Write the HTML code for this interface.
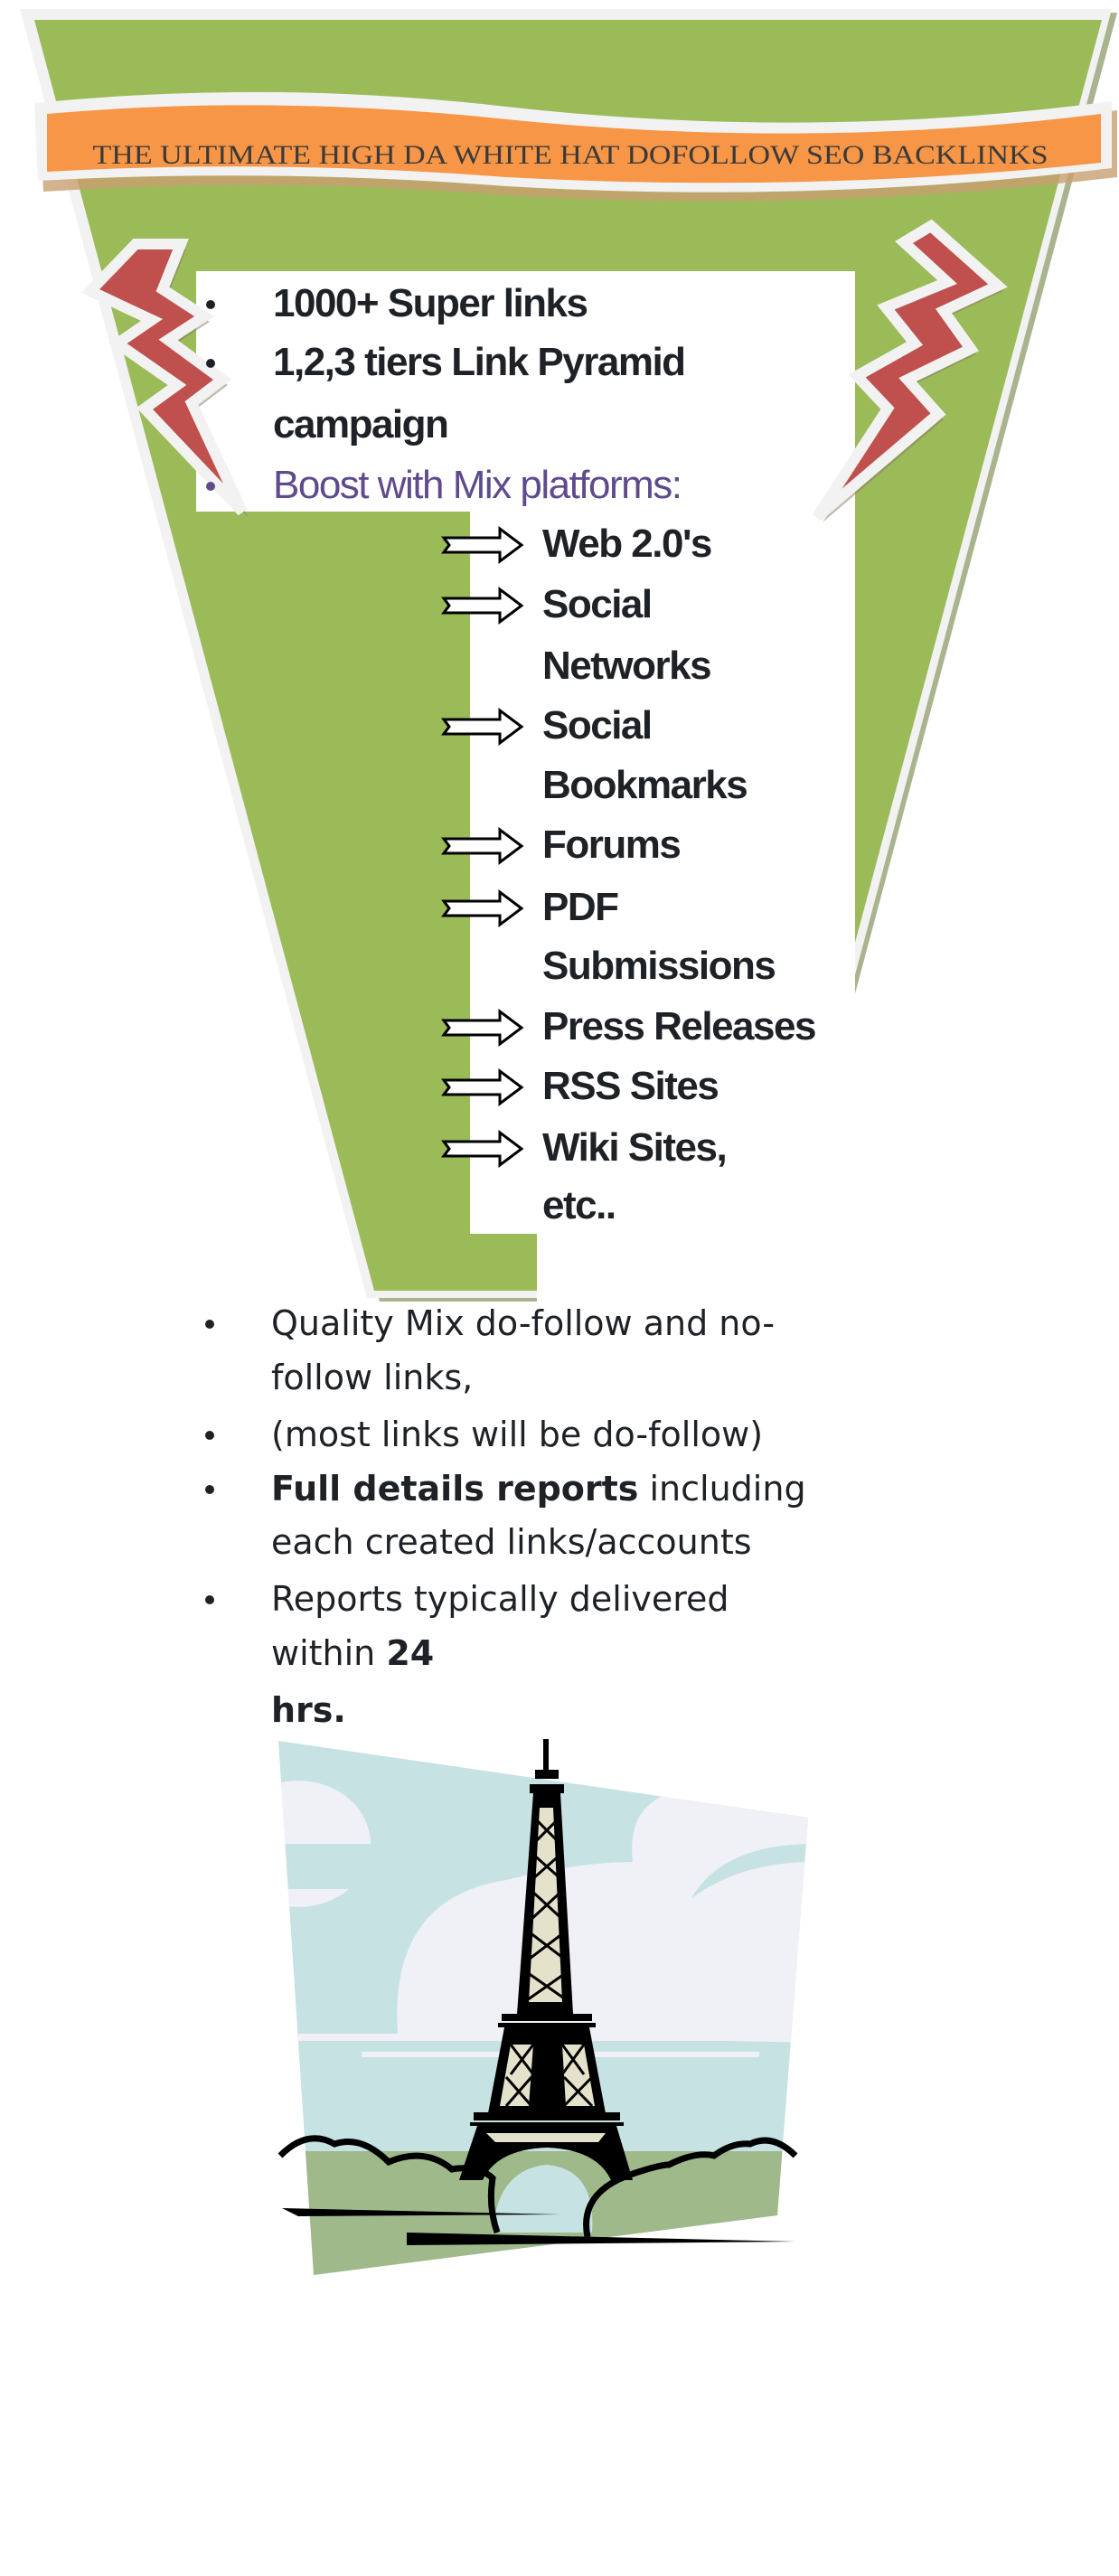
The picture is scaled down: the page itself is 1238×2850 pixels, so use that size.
<!DOCTYPE html>
<html><head><meta charset="utf-8"><style>
html,body{margin:0;padding:0;background:#fff;}
body{width:1238px;height:2850px;position:relative;overflow:hidden;}
svg{position:absolute;left:0;top:0;}
.b{font-family:"Liberation Sans",sans-serif;font-weight:bold;fill:#1e2227;font-size:44px;letter-spacing:-1.5px;}
.n{font-family:"DejaVu Sans","Liberation Sans",sans-serif;fill:#1e2227;font-size:38px;}
</style></head><body>
<svg width="1238" height="2850" viewBox="0 0 1238 2850" xmlns="http://www.w3.org/2000/svg">
<polygon points="32,14 1236,14 855,1440 420,1440" fill="#a9b48e"/>
<polygon points="22,10 1230,10 851,1436 406,1436" fill="#f2f2f2"/>
<polygon points="38,22 1219,22 843,1428 414,1428" fill="#9bbb59"/>
<!-- banner -->
<path d="M44,128 Q300,100 560,130 Q900,168 1236,122 L1236,196 Q900,236 560,216 Q300,196 48,212 Z" fill="#c8a070" opacity="0.8"/>
<path d="M38,114 Q300,88 560,118 Q900,156 1230,112 L1230,186 Q900,226 560,206 Q300,186 42,200 Z" fill="#f2f2f2"/>
<path d="M52,126 Q300,104 560,132 Q900,166 1218,126 L1218,180 Q900,214 560,196 Q300,176 52,190 Z" fill="#f79646"/>
<text x="631" y="181" text-anchor="middle" font-family="Liberation Serif,serif" font-size="30" fill="#3a3a3a" textLength="1057" lengthAdjust="spacingAndGlyphs">THE ULTIMATE HIGH DA WHITE HAT DOFOLLOW SEO BACKLINKS</text>
<!-- white box -->
<rect x="217" y="300" width="729" height="266" fill="#fff"/>
<rect x="520" y="566" width="426" height="799" fill="#fff"/>
<polygon points="594,1365 946,1365 946,1440 594,1440" fill="#fff"/>
<!-- lightning left -->
<g>
<polygon points="150,270 100,322 168,354 130,380 196,426 160,452 268,566 212,446 246,420 186,376 226,350 180,320 200,270" fill="#8a7a60" opacity="0.5" transform="translate(6,6)"/>
<polygon points="150,270 100,322 168,354 130,380 196,426 160,452 268,566 212,446 246,420 186,376 226,350 180,320 200,270" fill="#c0504d" stroke="#f2f2f2" stroke-width="12" stroke-linejoin="miter"/>
</g>
<g>
<polygon points="1030,250 1104,316 1044,344 1074,386 1004,420 1038,458 904,572 982,452 948,416 1012,380 980,340 1048,312 1000,268" fill="#8a7a60" opacity="0.5" transform="translate(6,6)"/>
<polygon points="1030,250 1104,316 1044,344 1074,386 1004,420 1038,458 904,572 982,452 948,416 1012,380 980,340 1048,312 1000,268" fill="#c0504d" stroke="#f2f2f2" stroke-width="12" stroke-linejoin="miter"/>
</g>
<rect x="222" y="318" width="640" height="245" fill="#fff" opacity="0"/>
<circle cx="233" cy="337" r="5" fill="#1e2227"/>
<circle cx="233" cy="402" r="5" fill="#1e2227"/>
<circle cx="233" cy="538" r="5" fill="#5f4b8b"/>
<text class="b" x="302" y="350">1000+ Super links</text>
<text class="b" x="302" y="415">1,2,3 tiers Link Pyramid</text>
<text class="b" x="302" y="484">campaign</text>
<text x="302" y="551" font-family="Liberation Sans,sans-serif" font-size="44" fill="#5f4b8b" letter-spacing="-1.5">Boost with Mix platforms:</text>
<defs><path id="ar" d="M0,-8 L62,-8 L62,-18 L86,0 L62,18 L62,8 L0,8 L6,0 Z" fill="#fff" stroke="#000" stroke-width="3"/></defs>
<use href="#ar" x="491" y="603"/>
<use href="#ar" x="491" y="670"/>
<use href="#ar" x="491" y="804"/>
<use href="#ar" x="491" y="936"/>
<use href="#ar" x="491" y="1005"/>
<use href="#ar" x="491" y="1137"/>
<use href="#ar" x="491" y="1203"/>
<use href="#ar" x="491" y="1271"/>
<text class="b" x="600" y="616">Web 2.0's</text>
<text class="b" x="600" y="683">Social</text>
<text class="b" x="600" y="751">Networks</text>
<text class="b" x="600" y="817">Social</text>
<text class="b" x="600" y="883">Bookmarks</text>
<text class="b" x="600" y="949">Forums</text>
<text class="b" x="600" y="1018">PDF</text>
<text class="b" x="600" y="1083">Submissions</text>
<text class="b" x="600" y="1150">Press Releases</text>
<text class="b" x="600" y="1216">RSS Sites</text>
<text class="b" x="600" y="1284">Wiki Sites,</text>
<text class="b" x="600" y="1348">etc..</text>
<!-- lower list -->
<circle cx="232" cy="1465" r="5" fill="#1e2227"/>
<circle cx="232" cy="1588" r="5" fill="#1e2227"/>
<circle cx="232" cy="1648" r="5" fill="#1e2227"/>
<circle cx="232" cy="1770" r="5" fill="#1e2227"/>
<text class="n" x="300" y="1477">Quality Mix do-follow and no-</text>
<text class="n" x="300" y="1537">follow links,</text>
<text class="n" x="300" y="1600">(most links will be do-follow)</text>
<text class="n" x="300" y="1660"><tspan font-weight="bold">Full details reports</tspan> including</text>
<text class="n" x="300" y="1719">each created links/accounts</text>
<text class="n" x="300" y="1782">Reports typically delivered</text>
<text class="n" x="300" y="1842">within <tspan font-weight="bold">24</tspan></text>
<text class="n" x="300" y="1905" font-weight="bold">hrs.</text>
<!-- picture -->
<clipPath id="pc"><polygon points="308,1926 894,2011 860,2451 347,2517"/></clipPath>
<g clip-path="url(#pc)">
<rect x="300" y="1920" width="600" height="600" fill="#c6e2e3"/>
<ellipse cx="330" cy="2040" rx="80" ry="70" fill="#f0f0f7"/>
<rect x="300" y="2040" width="110" height="50" fill="#c6e2e3"/>
<path d="M440,2250 Q430,2100 560,2080 Q640,2060 700,2060 Q690,1970 800,1980 L900,1990 L900,2260 Z" fill="#f0f0f7"/>
<path d="M765,2100 Q800,2040 900,2040 L900,2060 Q820,2060 765,2100 Z" fill="#c6e2e3"/>
<rect x="330" y="2250" width="530" height="8" fill="#f0f0f7"/>
<rect x="400" y="2270" width="440" height="6" fill="#f0f0f7"/>
<rect x="300" y="2380" width="600" height="150" fill="#9fb98a"/>
<path d="M545,2470 Q550,2400 605,2395 Q660,2400 655,2470 Z" fill="#c6e2e3"/>
</g>
<path d="M310,2385 Q340,2355 370,2372 Q400,2362 430,2392 Q470,2375 500,2400 Q530,2395 545,2410 Q540,2440 550,2470" fill="none" stroke="#000" stroke-width="7"/>
<path d="M650,2475 Q640,2425 700,2405 Q730,2395 740,2395 Q770,2380 790,2385 Q810,2370 830,2372 Q855,2360 880,2385" fill="none" stroke="#000" stroke-width="7"/>
<polygon points="312,2443 620,2450 330,2452" fill="#000"/>
<polygon points="450,2470 880,2480 450,2484" fill="#000"/>
<!-- tower -->
<g fill="#000">
<rect x="601" y="1924" width="6" height="36"/>
<rect x="592" y="1958" width="26" height="10"/>
<rect x="586" y="1974" width="38" height="10"/>
<polygon points="590,1984 620,1984 634,2228 572,2228"/>
<rect x="555" y="2228" width="100" height="8"/>
<rect x="551" y="2238" width="108" height="5"/>
<polygon points="558,2243 652,2243 670,2338 540,2338"/>
<rect x="524" y="2337" width="162" height="9"/>
<rect x="520" y="2348" width="170" height="4"/>
<path d="M528,2352 L682,2352 L700,2412 L676,2412 Q660,2378 605,2376 Q550,2378 534,2412 L508,2412 Z"/>
</g>
<g fill="#e5e2cc">
<polygon points="597,2000 612,2000 622,2215 585,2215"/>
<polygon points="565,2262 590,2262 585,2330 553,2330"/>
<polygon points="622,2262 646,2262 658,2330 626,2330"/>
<polygon points="538,2360 670,2360 662,2370 548,2370"/>
</g>
<g stroke="#000" stroke-width="3">
<path d="M590,2010 L620,2040 M620,2010 L590,2040 M588,2050 L622,2080 M622,2050 L588,2080 M586,2090 L624,2125 M624,2090 L586,2125 M582,2135 L628,2170 M628,2135 L582,2170 M580,2180 L630,2215 M630,2180 L580,2215"/>
<path d="M565,2262 L590,2295 M590,2262 L565,2295 M560,2298 L588,2330 M588,2298 L560,2330 M622,2262 L646,2295 M646,2262 L622,2295 M624,2298 L655,2330 M655,2298 L624,2330"/>
</g>
</svg>
</body></html>
